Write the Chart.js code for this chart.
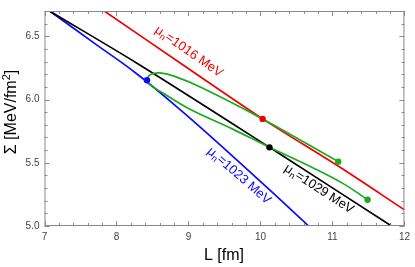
<!DOCTYPE html>
<html><head><meta charset="utf-8">
<script src="https://cdn.jsdelivr.net/npm/chart.js@4"></script>
<style>html,body{margin:0;padding:0;background:#fff}#wrap{width:415px;height:267px;position:relative}</style>
</head><body><div id="wrap"><canvas id="c" width="415" height="267"></canvas></div>
<script>
// ---- data ----
const xTicks = [7, 8, 9, 10, 11, 12];
const yTicks = [5.0, 5.5, 6.0, 6.5];
const redL = [7.83, 8.90, 10.03, 11.10, 12.0];
const redS = [6.70, 6.283, 5.847, 5.466, 5.128];
const blackL = [7.07, 8.29, 10.125, 11.82];
const blackS = [6.70, 6.285, 5.622, 5.0];
const blueL = [7.07, 7.70, 8.29, 8.90, 9.60, 10.20, 10.67];
const blueS = [6.70, 6.442, 6.20, 5.912, 5.559, 5.248, 5.0];
const greenL = [11.08, 10.03, 9.20, 8.80, 8.60, 8.47, 8.424, 8.46, 8.65, 9.00, 9.60, 10.125, 10.70, 11.15, 11.488];
const greenS = [5.509, 5.847, 6.090, 6.185, 6.211, 6.197, 6.153, 6.118, 6.050, 5.930, 5.770, 5.622, 5.468, 5.335, 5.208];
const dotL = [8.424, 10.03, 10.125, 11.08, 11.488];
const dotS = [6.153, 5.847, 5.622, 5.509, 5.208];
const muValues = ['1016', '1023', '1029'];
const muL = [9.0, 9.70, 10.81];
const muS = [6.38, 5.398, 5.293];
const xTitle = 'L [fm]';
const yTitleMain = 'Σ [MeV/fm';

const RED = 'rgb(240,0,0)', BLUE = 'rgb(10,10,255)', BLACK = '#000', GREEN = 'rgb(30,170,30)';
const dotColors = [BLUE, RED, BLACK, GREEN, GREEN];
const muColors = [RED, BLUE, BLACK];
const muAngles = [35, 41, 33];
const FONT = '"Liberation Sans", Arial, sans-serif';

const pts = (L, S) => L.map((v, i) => ({x: v, y: S[i]}));

const frameTicks = {
  id: 'frameTicks',
  afterDraw(chart) {
    const {ctx, chartArea: a, scales: {x, y}} = chart;
    ctx.save();
    ctx.strokeStyle = '#8a8a8a';
    ctx.lineWidth = 1;
    ctx.strokeRect(a.left + 0.5, a.top + 0.5, a.right - a.left - 1, a.bottom - a.top - 1);
    ctx.beginPath();
    for (let v = 7; v <= 12.0001; v += 0.2) {
      const px = Math.round(x.getPixelForValue(v)) + 0.5;
      const major = Math.abs(v - Math.round(v)) < 1e-6;
      const len = major ? 5 : 3;
      ctx.moveTo(px, a.bottom); ctx.lineTo(px, a.bottom - len);
      ctx.moveTo(px, a.top); ctx.lineTo(px, a.top + len);
    }
    for (let v = 5.0; v <= 6.70001; v += 0.1) {
      const py = Math.round(y.getPixelForValue(v)) + 0.5;
      const major = Math.abs(v * 2 - Math.round(v * 2)) < 1e-6;
      const len = major ? 5 : 3;
      ctx.moveTo(a.left, py); ctx.lineTo(a.left + len, py);
      ctx.moveTo(a.right, py); ctx.lineTo(a.right - len, py);
    }
    ctx.stroke();
    ctx.restore();
  }
};

const texts = {
  id: 'texts',
  afterDraw(chart) {
    const {ctx, chartArea: a, scales: {x, y}} = chart;
    ctx.save();
    muValues.forEach((v, i) => {
      const px = x.getPixelForValue(muL[i]), py = y.getPixelForValue(muS[i]);
      ctx.save();
      ctx.translate(px, py);
      ctx.rotate(muAngles[i] * Math.PI / 180);
      ctx.fillStyle = muColors[i];
      ctx.textBaseline = 'middle';
      ctx.textAlign = 'left';
      const big = '13px ' + FONT, small = '9px ' + FONT;
      ctx.font = big; const w1 = ctx.measureText('μ').width;
      ctx.font = small; const w2 = ctx.measureText('n').width;
      ctx.font = big; const rest = '=' + v + ' MeV'; const w3 = ctx.measureText(rest).width;
      let x0 = -(w1 + w2 + w3) / 2;
      ctx.font = big; ctx.fillText('μ', x0, 0);
      ctx.font = small; ctx.fillText('n', x0 + w1, 3.5);
      ctx.font = big; ctx.fillText(rest, x0 + w1 + w2 + 0.5, 0);
      ctx.restore();
    });
    ctx.fillStyle = '#000';
    ctx.font = '16px ' + FONT;
    ctx.textAlign = 'center';
    ctx.textBaseline = 'middle';
    ctx.fillText(xTitle, (a.left + a.right) / 2 - 0.5, 256);
    ctx.save();
    ctx.translate(12, 112);
    ctx.rotate(-Math.PI / 2);
    ctx.font = '16px ' + FONT;
    const wm = ctx.measureText(yTitleMain).width;
    ctx.font = '11px ' + FONT;
    const ws = ctx.measureText('2').width;
    ctx.font = '16px ' + FONT;
    const wc = ctx.measureText(']').width;
    let x0 = -(wm + ws + wc) / 2;
    ctx.textAlign = 'left';
    ctx.fillText(yTitleMain, x0, 0);
    ctx.font = '11px ' + FONT;
    ctx.fillText('2', x0 + wm, -5);
    ctx.font = '16px ' + FONT;
    ctx.fillText(']', x0 + wm + ws, 0);
    ctx.restore();
    ctx.restore();
  }
};

const lineDs = (data, color, tension) => ({
  type: 'scatter', data, showLine: true, borderColor: color, backgroundColor: color,
  borderWidth: 1.7, pointRadius: 0, pointHoverRadius: 0, tension, fill: false
});

new Chart(document.getElementById('c'), {
  type: 'scatter',
  data: {
    datasets: [
      {type: 'scatter', data: pts(dotL, dotS), pointRadius: 3.2, pointBackgroundColor: dotColors, pointBorderColor: dotColors, borderWidth: 0, showLine: false},
      lineDs(pts(greenL, greenS), GREEN, 0.4),
      lineDs(pts(redL, redS), RED, 0.3),
      lineDs(pts(blackL, blackS), BLACK, 0.3),
      lineDs(pts(blueL, blueS), BLUE, 0.4)
    ]
  },
  options: {
    responsive: false,
    animation: false,
    devicePixelRatio: 1,
    layout: {padding: {left: 0, right: 6, top: 0, bottom: 0}},
    plugins: {legend: {display: false}, tooltip: {enabled: false}},
    scales: {
      x: {
        type: 'linear', min: 7, max: 12,
        grid: {display: false, drawTicks: false}, border: {display: false},
        afterBuildTicks: s => { s.ticks = xTicks.map(v => ({value: v})); },
        afterFit: s => { s.height = 41; },
        ticks: {padding: 5, color: '#444', font: {size: 10, family: FONT}, maxRotation: 0, callback: v => String(v)}
      },
      y: {
        type: 'linear', min: 5.0, max: 6.7,
        grid: {display: false, drawTicks: false}, border: {display: false},
        afterBuildTicks: s => { s.ticks = yTicks.map(v => ({value: v})); },
        afterFit: s => { s.width = 44.5; },
        ticks: {padding: 5, color: '#444', font: {size: 10, family: FONT}, callback: v => Number(v).toFixed(1)}
      }
    }
  },
  plugins: [frameTicks, texts]
});
</script></body></html>
